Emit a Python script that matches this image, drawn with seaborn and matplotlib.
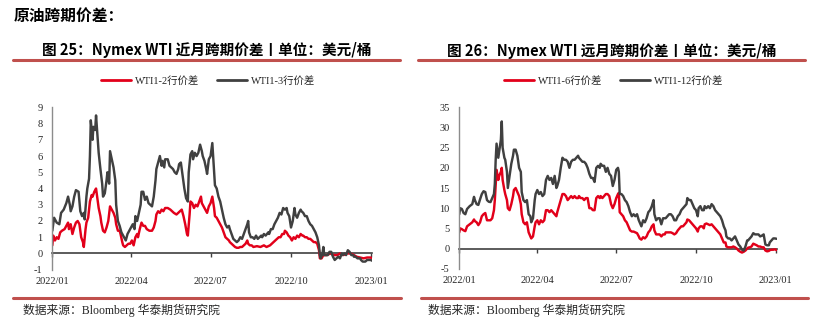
import numpy as np
import pandas as pd
import matplotlib
matplotlib.use("Agg")
import matplotlib.pyplot as plt
import matplotlib.dates as mdates
from matplotlib.lines import Line2D
from matplotlib.ticker import FixedLocator
import seaborn as sns

# ---------------- data (days counted from 2022-01-01) ----------------
START = "2022-01-01"

L_GRAY_NAME = "WTI1-3行价差"
L_RED_NAME = "WTI1-2行价差"
R_RED_NAME = "WTI1-6行价差"
R_GRAY_NAME = "WTI1-12行价差"

L_GRAY_DAYS = [0, 2, 5, 8, 10, 13, 16, 18, 20, 21,
               23, 25, 27, 30, 32, 34, 36, 37, 39, 40,
               42, 43, 44, 46, 47, 49, 50, 52, 53, 55,
               57, 58, 60, 62, 63, 65, 66, 68, 70, 72,
               73, 75, 77, 79, 82, 84, 86, 88, 90, 92,
               94, 95, 97, 99, 101, 102, 104, 106, 108, 110,
               112, 114, 116, 118, 119, 121, 123, 125, 126, 128,
               129, 132, 134, 136, 138, 140, 142, 144, 145, 147,
               149, 151, 153, 155, 156, 158, 160, 161, 163, 165,
               167, 169, 171, 172, 174, 176, 177, 179, 181, 183,
               185, 186, 188, 190, 192, 194, 196, 198, 200, 202,
               203, 205, 207, 209, 211, 213, 215, 217, 219, 221,
               223, 224, 225, 227, 229, 231, 233, 235, 237, 239,
               240, 242, 244, 247, 248, 250, 252, 254, 256, 258,
               260, 262, 264, 266, 268, 269, 271, 273, 275, 277,
               278, 280, 282, 284, 285, 287, 289, 291, 293, 295,
               297, 299, 301, 303, 305, 306, 307, 309, 310, 311,
               313, 315, 317, 319, 321, 323, 325, 327, 329, 331,
               332, 334, 336, 338, 340, 342, 344, 345, 347, 349,
               352, 353, 355, 358, 360, 362, 364, 366]
L_GRAY = [1.4, 2.2, 1.9, 1.8, 2.5, 2.7, 3.1, 3.5, 3.0, 2.6,
          2.9, 3.5, 3.9, 3.8, 2.6, 2.3, 2.5, 2.1, 3.5, 4.0,
          4.6, 6.0, 8.2, 7.0, 7.8, 7.6, 8.5, 7.0, 6.2, 5.2,
          4.3, 3.5, 3.7, 4.5, 5.0, 4.3, 6.3, 5.8, 5.3, 4.5,
          3.0, 2.0, 1.7, 1.3, 1.0, 0.8, 1.2, 1.4, 1.6, 1.8,
          1.5, 2.3, 2.0, 2.5, 3.0, 3.8, 3.8, 3.3, 3.5, 3.1,
          3.0, 2.9, 3.5, 4.5, 5.2, 5.6, 6.0, 5.4, 5.7, 5.3,
          5.8, 5.8, 5.4, 5.3, 5.2, 5.0, 4.9, 5.2, 5.5, 5.6,
          4.8, 4.0, 3.4, 3.2, 5.0, 6.1, 6.3, 5.8, 6.2, 6.0,
          6.2, 6.7, 6.3, 6.0, 5.7, 5.2, 4.9, 5.8, 6.0, 6.8,
          5.0, 4.2, 4.0, 3.5, 3.2, 2.7, 2.2, 1.8, 1.6, 1.7,
          1.5, 1.2, 0.9, 0.8, 0.7, 0.8, 1.0, 0.9, 1.2, 1.5,
          1.8, 2.0, 1.3, 1.0, 1.0, 0.9, 1.1, 0.9, 1.0, 1.1,
          1.0, 1.2, 1.1, 1.3, 1.2, 1.5, 1.5, 1.8, 2.0, 2.2,
          2.5, 2.4, 2.8, 2.7, 2.8, 2.5, 2.3, 1.6, 2.0, 2.8,
          2.4, 2.2, 2.5, 2.7, 2.6, 2.5, 2.3, 2.3, 2.0, 1.8,
          1.7, 1.5, 1.3, 1.0, 0.5, -0.1, -0.3, 0.0, 0.4, -0.1,
          -0.1, -0.1, 0.1, 0.1, -0.2, -0.4, -0.3, -0.2, -0.3, 0.0,
          -0.1, 0.0, -0.1, 0.2, 0.1, -0.1, -0.1, -0.2, -0.2, -0.3,
          -0.3, -0.4, -0.5, -0.5, -0.4, -0.4, -0.4, -0.45]

L_RED_DAYS = [0, 1, 3, 5, 7, 9, 11, 14, 16, 18,
              19, 21, 23, 25, 27, 29, 31, 33, 35, 36,
              38, 39, 41, 43, 45, 46, 48, 50, 51, 53,
              55, 56, 58, 60, 62, 64, 66, 68, 70, 72,
              73, 75, 77, 78, 80, 81, 83, 85, 87, 89,
              91, 93, 95, 97, 98, 100, 102, 104, 106, 108,
              111, 114, 116, 118, 119, 121, 123, 125, 127, 129,
              132, 135, 137, 139, 142, 144, 146, 148, 150, 152,
              154, 155, 157, 158, 160, 162, 164, 166, 168, 170,
              171, 173, 175, 177, 179, 181, 183, 185, 186, 188,
              190, 192, 194, 196, 198, 200, 202, 203, 205, 207,
              209, 211, 213, 215, 217, 219, 221, 223, 224, 226,
              228, 230, 234, 238, 242, 245, 249, 251, 253, 255,
              257, 259, 261, 263, 265, 266, 268, 270, 272, 274,
              276, 278, 280, 282, 284, 286, 287, 289, 291, 293,
              295, 297, 299, 301, 303, 305, 306, 308, 310, 314,
              318, 322, 326, 329, 333, 337, 341, 345, 348, 352,
              356, 360, 364, 366]
L_RED = [0.5, 1.1, 0.8, 1.0, 0.9, 1.3, 1.4, 1.5, 1.7, 1.9,
         1.5, 1.8, 1.2, 1.6, 1.9, 2.0, 1.8, 1.0, 0.7, 0.4,
         1.5, 1.9, 2.2, 3.2, 3.6, 3.5, 3.8, 4.0, 3.6, 2.8,
         2.3, 1.9, 1.4, 1.3, 1.6, 2.0, 2.9, 2.7, 2.5, 2.2,
         1.8, 1.4, 1.4, 1.2, 0.7, 0.5, 0.4, 0.5, 0.6, 0.6,
         0.8, 0.5, 1.0, 1.2, 1.0, 1.5, 1.9, 1.7, 1.7, 1.5,
         1.4, 1.4, 1.6, 2.0, 2.4, 2.6, 2.5, 2.7, 2.6, 2.8,
         2.8, 2.7, 2.6, 2.5, 2.4, 2.5, 2.6, 2.7, 2.3, 1.8,
         1.2, 1.1, 2.4, 3.2, 3.1, 2.8, 3.0, 2.9, 3.2, 3.5,
         3.1, 2.9, 2.7, 2.5, 2.9, 3.1, 3.5, 2.8, 2.3, 2.2,
         2.0, 1.8, 1.6, 1.3, 1.0, 0.9, 0.8, 0.7, 0.6, 0.5,
         0.4, 0.35, 0.35, 0.4, 0.4, 0.5, 0.6, 0.8, 0.6, 0.5,
         0.5, 0.4, 0.45, 0.4, 0.5, 0.4, 0.5, 0.6, 0.7, 0.8,
         0.9, 1.0, 1.0, 1.2, 1.2, 1.4, 1.3, 1.1, 1.0, 0.8,
         1.0, 0.9, 1.1, 1.0, 1.2, 1.1, 1.1, 1.0, 1.0, 0.9,
         0.9, 0.8, 0.7, 0.7, 0.6, 0.2, -0.3, -0.3, -0.1, -0.1,
         0.0, -0.1, -0.1, 0.0, -0.1, 0.0, 0.0, -0.1, -0.2, -0.25,
         -0.3, -0.25, -0.25, -0.3]

R_DAYS = [0, 1, 3, 5, 7, 9, 12, 15, 17, 18,
          20, 22, 24, 26, 28, 30, 32, 34, 36, 38,
          40, 41, 42, 43, 45, 46, 48, 49, 50, 52,
          53, 55, 56, 58, 60, 62, 63, 65, 67, 69,
          71, 72, 74, 76, 78, 80, 82, 83, 85, 87,
          88, 90, 92, 94, 96, 98, 100, 102, 104, 106,
          108, 110, 112, 113, 115, 117, 119, 121, 123, 125,
          127, 129, 131, 133, 135, 137, 138, 140, 142, 144,
          146, 148, 150, 152, 154, 156, 158, 160, 162, 163,
          165, 167, 169, 171, 173, 175, 177, 179, 181, 183,
          184, 185, 187, 189, 191, 193, 195, 197, 199, 201,
          203, 205, 207, 208, 210, 212, 214, 216, 218, 220,
          222, 224, 225, 227, 229, 231, 233, 235, 237, 238,
          240, 242, 244, 246, 248, 250, 252, 254, 256, 258,
          260, 262, 263, 265, 267, 269, 271, 273, 275, 276,
          278, 280, 282, 283, 285, 287, 289, 291, 293, 295,
          297, 299, 301, 303, 305, 307, 308, 310, 312, 314,
          316, 318, 320, 322, 324, 326, 328, 330, 332, 333,
          335, 337, 339, 341, 343, 345, 347, 349, 351, 353,
          355, 357, 358, 360, 362, 364, 366]
R_GRAY = [8.5, 10.0, 9.8, 8.8, 8.5, 9.8, 10.5, 11.0, 12.8, 12.0,
          11.0, 10.8, 12.2, 13.5, 14.2, 14.0, 12.0, 11.6, 11.5, 12.5,
          13.5, 16, 22, 26, 22.5, 24, 27, 31.5, 25, 22.5,
          22, 19, 15, 18, 21, 23, 24.5, 24.5, 23, 20,
          19, 14, 12, 11.5, 12, 8.5, 8.0, 6.5, 7.5, 12,
          13.5, 14.5, 13.5, 14, 13, 13.5, 17, 18, 17, 17.5,
          16, 18, 15, 15.5, 17, 20, 22.5, 22, 22, 21.5,
          20, 21.5, 22, 22, 22.5, 23, 22.5, 22, 21.5, 21.5,
          21, 20, 18.5, 17.5, 17.5, 16.5, 20, 20.5, 20, 21,
          20.5, 20.5, 19, 20, 18.5, 18, 15.5, 17, 19.5, 20,
          19, 13.5, 13.5, 13, 12, 11.5, 10.5, 9, 8, 8.5,
          8, 8.5, 7, 6.5, 5.5, 7, 6.5, 7.5, 9, 9.5,
          10.5, 12, 8.5, 7, 7.5, 7.5, 6, 7.5, 7.5, 7.5,
          8, 8.5, 8.5, 8, 7, 7, 8, 8.5, 9.5, 10,
          10.5, 11, 12.5, 12, 12, 11, 10, 9.5, 8, 10,
          10.5, 9.5, 9.5, 10.5, 10, 10.5, 10, 11, 10.5, 9.5,
          9, 8.5, 8, 7, 5.5, 4.5, 3, 2.5, 2.5, 2,
          2.5, 3, 2, 1, 0.5, -0.3, -0.5, 0.5, 2, 2,
          2.5, 3.0, 3.8, 3.5, 3.5, 3.5, 3.0, 3.2, 3.5, 1,
          0.8, 0.8, 1.5, 2.0, 2.5, 2.5, 2.4]
R_RED = [4.0, 5.0, 4.8, 4.5, 4.3, 5.5, 6.0, 6.5, 7.2, 6.8,
         6.5, 5.8, 6.5, 8.0, 8.5, 8.8, 7.0, 7.0, 7.0, 7.5,
         9.5, 12, 16, 19.5, 17, 18, 19, 20, 17, 14.5,
         13.5, 12, 10, 9.5, 11, 13, 14.5, 15, 14, 13,
         11, 8.5, 6.5, 6, 6.5, 4, 3, 2.5, 3.0, 5.5,
         6.5, 7, 6, 7, 6.5, 7, 9.5, 9.5, 9, 9.5,
         9, 8.5, 8, 9, 10.5, 12, 13.5, 13.5, 13, 12,
         12.5, 13, 12.5, 13, 12.5, 12.5, 13, 12.5, 12.5, 12,
         12.5, 12.5, 10, 10, 9.5, 9.5, 12.5, 13, 12.5, 13,
         12.5, 13, 13.5, 13.5, 13, 11, 10, 11, 12.5, 13.5,
         13.8, 9, 8.5, 8, 7, 6.5, 5.5, 4.5, 4.2, 4.2,
         4, 3.8, 3.0, 2.5, 2.2, 2.8, 2.5, 3.0, 4.0, 4.5,
         5.5, 6.0, 4.5, 3.5, 3.5, 3.5, 3.0, 3.5, 3.5, 4.0,
         4.0, 4.0, 4.0, 3.8, 3.5, 3.8, 4.5, 5, 5.5, 5.5,
         6, 6.5, 7.2, 7, 6.5, 6, 5.5, 5, 4.2, 5,
         5.5, 5.5, 5, 6, 6.2, 6.0, 5.8, 6, 5.5, 5,
         4.5, 4, 3.5, 2.5, 1.5, 1.5, 0.5, 0.3, 0.3, 0.3,
         0.5, 0.3, 0.0, -0.5, -0.8, -1.0, -0.8, -0.5, 0, 0.2,
         0.3, 0.5, 1.2, 1.0, 0.8, 0.5, 0.5, 0.3, 0.3, -0.5,
         -0.7, -0.6, -0.4, -0.3, -0.3, -0.2, -0.4]

X_TICKS = ["2022-01-01", "2022-04-01", "2022-07-01", "2022-10-01", "2023-01-01"]
X_TICK_LABELS = ["2022/01", "2022/04", "2022/07", "2022/10", "2023/01"]
L_YTICKS = list(range(-1, 10))
R_YTICKS = list(range(-5, 40, 5))

HEADING = "原油跨期价差："
L_TITLE = "图 25：Nymex WTI 近月跨期价差丨单位：美元/桶"
R_TITLE = "图 26：Nymex WTI 远月跨期价差丨单位：美元/桶"
SOURCE = "数据来源：Bloomberg 华泰期货研究院"

# ---------------- style ----------------
RED = "#E2001A"
GRAY = "#404040"
RULE = "#C0504D"
SPINE = "#8C8C8C"
TXT = "#262626"

sns.set_style("white")
SERIF = ["Liberation Serif", "Noto Sans CJK SC", "DejaVu Sans"]
CJK = ["Noto Sans CJK SC", "DejaVu Sans"]
plt.rcParams["font.family"] = SERIF


def frame(days, values, name):
    d = pd.Timestamp(START) + pd.to_timedelta(np.asarray(days), unit="D")
    return pd.DataFrame({"date": d, "value": values, "series": name})


fig = plt.figure(figsize=(8.32, 3.30), dpi=100)
axL = fig.add_axes([0.0629, 0.1827, 0.3846, 0.4921])
axR = fig.add_axes([0.552, 0.1858, 0.3815, 0.489])

dfL = pd.concat([frame(L_RED_DAYS, L_RED, L_RED_NAME),
                 frame(L_GRAY_DAYS, L_GRAY, L_GRAY_NAME)], ignore_index=True)
dfR = pd.concat([frame(R_DAYS, R_RED, R_RED_NAME),
                 frame(R_DAYS, R_GRAY, R_GRAY_NAME)], ignore_index=True)

xt = pd.to_datetime(X_TICKS)
xmin = pd.Timestamp(START)
xmax = pd.Timestamp(START) + pd.Timedelta(days=366)


def style_axis(ax, df, order, yticks, legend_xy):
    sns.lineplot(data=df, x="date", y="value", hue="series", hue_order=order,
                 palette=[RED, GRAY], linewidth=1.75, legend=False,
                 errorbar=None, ax=ax)
    ymin, ymax = yticks[0], yticks[-1]
    ax.set_xlim(xmin, xmax)
    ax.set_ylim(ymin, ymax)
    ax.set_xlabel("")
    ax.set_ylabel("")
    ax.set_xticks(xt)
    ax.set_xticklabels(X_TICK_LABELS)
    ax.set_yticks(yticks)
    ax.set_yticklabels([str(v) for v in yticks])
    for s in ("top", "right", "bottom"):
        ax.spines[s].set_visible(False)
    ax.spines["left"].set_color(SPINE)
    ax.spines["left"].set_linewidth(1.0)
    ax.tick_params(axis="x", length=0, pad=5, labelsize=7.5, labelcolor=TXT)
    ax.tick_params(axis="y", which="major", length=0, pad=7, labelsize=7.5,
                   labelcolor=TXT)
    ax.yaxis.set_minor_locator(FixedLocator([ymin, ymax]))
    ax.tick_params(axis="y", which="minor", direction="in", length=3,
                   left=True, color=SPINE, width=1.0)
    for lab in ax.get_xticklabels() + ax.get_yticklabels():
        lab.set_family(SERIF)
    # zero line with tick marks
    frac = (0 - ymin) / (ymax - ymin)
    sec = ax.secondary_xaxis(frac)
    sec.set_xticks(mdates.date2num(xt))
    sec.tick_params(axis="x", direction="out", length=3, width=1.0,
                    color=GRAY, labelbottom=False, labeltop=False)
    for s in sec.spines.values():
        s.set_color(GRAY)
        s.set_linewidth(1.2)
    handles = [Line2D([], [], color=RED, lw=2.0),
               Line2D([], [], color=GRAY, lw=2.0)]
    leg = fig.legend(handles, order, loc="center", bbox_to_anchor=legend_xy,
                     ncol=2, frameon=False, handlelength=2.9,
                     handletextpad=0.35, columnspacing=1.7,
                     prop={"family": SERIF, "size": 7.5})
    for t in leg.get_texts():
        t.set_color(TXT)


style_axis(axL, dfL, [L_RED_NAME, L_GRAY_NAME], L_YTICKS, (0.250, 0.7545))
style_axis(axR, dfR, [R_RED_NAME, R_GRAY_NAME], R_YTICKS, (0.7374, 0.7545))

# heading and titles
fig.text(14 / 832, 1 - 16 / 330, HEADING, ha="left", va="center",
         fontsize=11.3, fontweight="bold", family=CJK, color="black")
fig.text(207 / 832, 1 - 50 / 330, L_TITLE, ha="center", va="center",
         fontsize=10.5, fontweight="bold", family=CJK, color="black")
fig.text(612 / 832, 1 - 51 / 330, R_TITLE, ha="center", va="center",
         fontsize=10.5, fontweight="bold", family=CJK, color="black")

# rules
for x0, x1, y in [(13, 400, 60), (418, 805, 60), (13, 401, 298), (421, 808, 298)]:
    fig.add_artist(Line2D([x0 / 832, x1 / 832], [1 - y / 330, 1 - y / 330],
                          color=RULE, lw=2.2, transform=fig.transFigure))

# sources
fig.text(23 / 832, 1 - 310 / 330, SOURCE, ha="left", va="center",
         fontsize=8.5, family=SERIF, color=TXT)
fig.text(428 / 832, 1 - 310 / 330, SOURCE, ha="left", va="center",
         fontsize=8.5, family=SERIF, color=TXT)

fig.savefig("out.png", dpi=100)
